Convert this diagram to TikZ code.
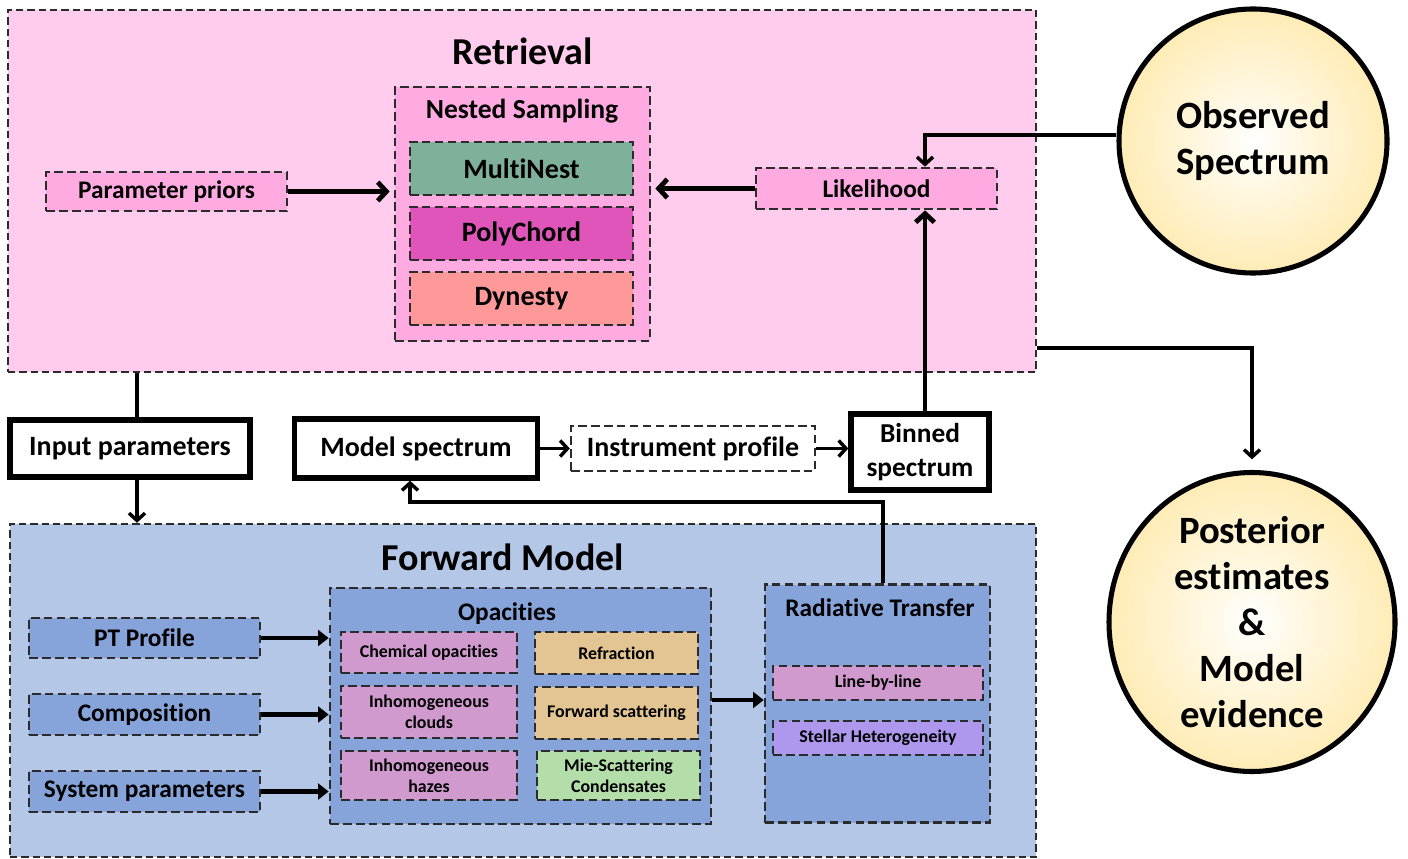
\documentclass[tikz,border=0pt]{standalone}
\usepackage{fontspec}
\setmainfont{Carlito}[Ligatures={NoCommon,NoContextual}]
\usetikzlibrary{arrows.meta,shapes.geometric,calc}
\definecolor{retrbg}{HTML}{FFCCEE}
\definecolor{pinkbox}{HTML}{FFAAE1}
\definecolor{mnest}{HTML}{7FB09A}
\definecolor{pchord}{HTML}{E055B9}
\definecolor{dyn}{HTML}{FF9999}
\definecolor{fwdbg}{HTML}{B4C7E7}
\definecolor{bluebox}{HTML}{86A4DA}
\definecolor{mauve}{HTML}{D09ACE}
\definecolor{tan}{HTML}{E3C593}
\definecolor{mint}{HTML}{B3DEAA}
\definecolor{lilac}{HTML}{AE98EE}
\definecolor{circY}{HTML}{FFE8A8}
\definecolor{dashgrey}{HTML}{2B2B2B}
\pgfdeclareradialshading{glow}{\pgfpoint{0bp}{0bp}}{color(0bp)=(white); color(8bp)=(white!70!circY); color(30bp)=(circY); color(50bp)=(circY)}
\tikzset{
  dbox/.style={draw=dashgrey, line width=2pt, dash pattern=on 6.5pt off 3.2pt, rectangle, inner sep=0pt, align=center, font=\bfseries},
  bigbox/.style={dbox, line width=1.8pt, dash pattern=on 5.5pt off 3pt},
  tbox/.style={draw=black, line width=4pt, rectangle, fill=white, inner sep=0pt, align=center, font=\bfseries\fontsize{21}{27}\selectfont},
  circ/.style={ellipse, draw=black, line width=3.8pt, shading=glow, inner sep=0pt, align=center, font=\bfseries\fontsize{29}{34.5}\selectfont},
  ttl/.style={font=\bfseries\fontsize{28.5}{32}\selectfont, inner sep=0pt},
  conn/.style={line width=2.6pt, -{Straight Barb[length=5.5pt,width=12pt]}},
  plainline/.style={line width=2.6pt},
  fatbarb/.style={line width=3.6pt, -{Straight Barb[length=6.5pt,width=14pt]}},
  fattri/.style={line width=3.6pt, -{Triangle[length=8pt,width=12pt]}},
  small/.style={font=\bfseries\fontsize{13.4}{16}\selectfont},
  mid/.style={font=\bfseries\fontsize{19}{23}\selectfont},
}
\begin{document}
\begin{tikzpicture}[x=0.75pt,y=-0.75pt]
\useasboundingbox (0,0) rectangle (1408,859);
% Retrieval block
\node[bigbox, fill=retrbg, minimum width=771pt, minimum height=271.5pt] (retr) at (522,191) {};
\node[ttl] (retrT) at (523,51) {Retrieval};
\node[dbox, fill=pinkbox, minimum width=191.25pt, minimum height=190.5pt] (nested) at (522.5,214) {};
\node[font=\bfseries\fontsize{20.7}{24}\selectfont, inner sep=0pt] (nestedT) at (522,111) {Nested Sampling};
\node[dbox, fill=mnest, minimum width=167.25pt, minimum height=39.75pt, font=\bfseries\fontsize{21}{24}\selectfont] (mn) at (521.5,168.5) {MultiNest};
\node[dbox, fill=pchord, minimum width=167.25pt, minimum height=39.75pt, font=\bfseries\fontsize{21}{24}\selectfont] (pc) at (521.5,233.5) {PolyChord};
\node[dbox, fill=dyn, minimum width=167.25pt, minimum height=39.75pt, font=\bfseries\fontsize{21}{24}\selectfont] (dy) at (521.5,298.5) {Dynesty};
\node[dbox, fill=pinkbox, minimum width=180.75pt, minimum height=29.25pt, font=\bfseries\fontsize{19}{22}\selectfont] (priors) at (166.5,191.5) {Parameter priors};
\node[dbox, fill=pinkbox, minimum width=180.75pt, minimum height=30.75pt, font=\bfseries\fontsize{19}{22}\selectfont] (like) at (876.5,188.5) {Likelihood};
% circles
\node[circ, minimum width=201pt, minimum height=198pt] (obs) at (1253,141) {Observed\\Spectrum};
\node[circ, minimum width=214.5pt, minimum height=214.5pt] (post) at (1252,622) {Posterior\\estimates\\\&\\Model\\evidence};
% middle row
\node[tbox, minimum width=180pt, minimum height=42.75pt] (input) at (130,448.5) {Input parameters};
\node[tbox, minimum width=182.25pt, minimum height=44.25pt] (model) at (416,448.5) {Model spectrum};
\node[dbox, line width=1.8pt, fill=white, minimum width=183pt, minimum height=33.75pt, font=\bfseries\fontsize{21}{27}\selectfont] (instr) at (693,448.5) {Instrument profile};
\node[tbox, minimum width=103.5pt, minimum height=57pt, font=\bfseries\fontsize{20.5}{25}\selectfont] (binned) at (920,452) {Binned\\spectrum};
% Forward model block
\node[bigbox, fill=fwdbg, minimum width=769.5pt, minimum height=249.75pt] (fwd) at (523,690.5) {};
\node[ttl] (fwdT) at (503,557) {Forward Model};
\node[dbox, fill=bluebox, minimum width=285.75pt, minimum height=177pt] (opac) at (520.5,706) {};
\node[mid, inner sep=0pt] (opacT) at (507,614) {Opacities};
\node[dbox, small, fill=mauve, minimum width=132pt, minimum height=30.75pt] (chem) at (429,652.5) {Chemical opacities};
\node[dbox, small, fill=tan, minimum width=122.25pt, minimum height=31.5pt] (refr) at (616.5,653) {Refraction};
\node[dbox, small, fill=mauve, minimum width=132pt, minimum height=39pt] (clouds) at (429,712) {Inhomogeneous\\clouds};
\node[dbox, small, fill=tan, minimum width=122.25pt, minimum height=39pt] (fscat) at (616.5,713) {Forward scattering};
\node[dbox, small, fill=mauve, minimum width=132pt, minimum height=36.75pt] (hazes) at (429,775.5) {Inhomogeneous\\hazes};
\node[dbox, small, fill=mint, minimum width=122.25pt, minimum height=36.75pt] (mie) at (618.5,775.5) {Mie-Scattering\\Condensates};
\node[dbox, mid, fill=bluebox, minimum width=173.25pt, minimum height=30pt] (pt) at (144.5,638) {PT Profile};
\node[dbox, mid, fill=bluebox, minimum width=173.25pt, minimum height=30.75pt] (comp) at (144.5,714.5) {Composition};
\node[dbox, mid, fill=bluebox, minimum width=173.25pt, minimum height=30.75pt] (sys) at (144.5,791.5) {System parameters};
\node[dbox, fill=bluebox, minimum width=168.75pt, minimum height=178.5pt] (rt) at (877.5,703.5) {};
\node[mid, inner sep=0pt] (rtT) at (880,608) {Radiative Transfer};
\node[dbox, small, fill=mauve, minimum width=157.5pt, minimum height=25.5pt] (lbl) at (878,683) {Line-by-line};
\node[dbox, small, fill=lilac, minimum width=157.5pt, minimum height=25.5pt] (stellar) at (878,738) {Stellar Heterogeneity};
% helper coordinates
\coordinate (xin) at (137,0);
\coordinate (xl) at (925,0);
\coordinate (yr) at (0,348);
\coordinate (yo) at (0,135);
\coordinate (xr) at (883,0);
\coordinate (xm) at (410,0);
\coordinate (yb) at (0,502);
\coordinate (yop) at (0,700);
% connectors
\draw[plainline] (retr.south -| xin) -- (input.north -| xin);
\draw[conn] (input.south -| xin) -- (fwd.north -| xin);
\draw[fatbarb] (priors.east) -- ([xshift=-3pt]nested.west |- priors.east);
\draw[fatbarb] (like.west) -- ([xshift=3pt]nested.east |- like.west);
\draw[conn] (obs.west |- yo) -| (xl |- like.north);
\draw[fatbarb] (xl |- binned.north) -- (xl |- like.south);
\draw[conn, shorten >=8pt] (retr.east |- yr) -| (post.north);
\draw[conn] (model.east) -- (instr.west);
\draw[conn] (instr.east) -- (binned.west |- instr.east);
\draw[conn] (xr |- rt.north) |- (xm |- yb) -- (xm |- model.south);
\draw[fattri] (pt.east) -- (pt.east -| opac.west);
\draw[fattri] (comp.east) -- (comp.east -| opac.west);
\draw[fattri] (sys.east) -- (sys.east -| opac.west);
\draw[fattri] (opac.east |- yop) -- (rt.west |- yop);
\end{tikzpicture}
\end{document}
